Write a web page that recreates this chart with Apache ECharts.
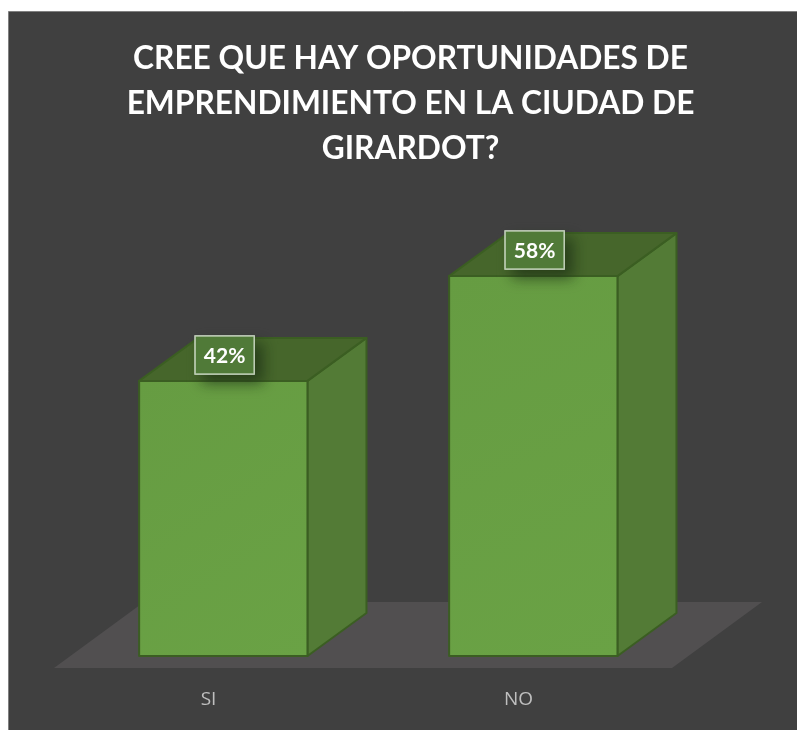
<!DOCTYPE html>
<html>
<head>
<meta charset="utf-8">
<style>
  html, body { margin: 0; padding: 0; background: #ffffff; }
  #chart { position: absolute; left: 0; top: 0; width: 797px; height: 730px; }
</style>
<script src="https://cdn.jsdelivr.net/npm/echarts@6/dist/echarts.min.js"></script>
</head>
<body>
<div id="chart"></div>
<script>
const titleLines = ['CREE QUE HAY OPORTUNIDADES DE', 'EMPRENDIMIENTO EN LA CIUDAD DE', 'GIRARDOT?'];
const categories = ['SI', 'NO'];
const percentages = [42, 58];

const DEPTH_X = 59, DEPTH_Y = 43;
const SIDE = '#537b36', TOP = '#46662b', EDGE = '#3b5e22';

const chart = echarts.init(document.getElementById('chart'), null, { renderer: 'canvas' });

// Floor plate under the columns, placed relative to the plot rectangle.
function renderFloor(params) {
  const c = params.coordSys;
  const bottom = c.y + c.height;
  return {
    type: 'polygon',
    shape: { points: [
      [c.x - 14, bottom + 12],
      [c.x + c.width - 16, bottom + 12],
      [c.x + c.width + 74, bottom - 54],
      [c.x + 76, bottom - 54]
    ] },
    style: { fill: '#514f50' },
    silent: true
  };
}

// One box per category: front, side and top faces plus the value tag.
function renderBox(params, api) {
  const idx = api.value(0);
  const val = api.value(1);
  const base = api.coord([idx, 0]);
  const head = api.coord([idx, val]);
  const w = api.size([1, 0])[0] * 0.543;
  const l = base[0] - w / 2 + 0.3, r = l + w, t = head[1], b = base[1];
  const edge = { stroke: EDGE, lineWidth: 2, lineJoin: 'round' };
  const tag = { x: l + 56, y: t - 45, width: 59, height: 38 };
  return {
    type: 'group',
    children: [
      { type: 'polygon', shape: { points: [[r, t], [r + DEPTH_X, t - DEPTH_Y], [r + DEPTH_X, b - DEPTH_Y], [r, b]] },
        style: Object.assign({ fill: SIDE }, edge) },
      { type: 'polygon', shape: { points: [[l, t], [l + DEPTH_X, t - DEPTH_Y], [r + DEPTH_X, t - DEPTH_Y], [r, t]] },
        style: Object.assign({ fill: TOP }, edge) },
      { type: 'rect', shape: { x: l, y: t, width: w, height: b - t },
        style: Object.assign({
          fill: new echarts.graphic.LinearGradient(0, 0, 1, 1, [
            { offset: 0, color: '#669c42' }, { offset: 1, color: '#6aa245' }
          ])
        }, edge) },
      { type: 'rect', shape: tag,
        style: {
          fill: '#507a38', stroke: 'rgba(205,218,198,0.8)', lineWidth: 1.5,
          shadowBlur: 14, shadowColor: 'rgba(30,50,20,0.75)', shadowOffsetX: 8, shadowOffsetY: 8
        } },
      { type: 'rect', shape: tag,
        style: { fill: '#507a38', stroke: 'rgba(205,218,198,0.8)', lineWidth: 1.5 } },
      { type: 'text', x: l + 85.5, y: t - 25,
        style: {
          text: val + '%', fill: '#ffffff', font: 'bold 21px Lato, "Open Sans", sans-serif',
          align: 'center', verticalAlign: 'middle'
        } }
    ]
  };
}

chart.setOption({
  animation: false,
  backgroundColor: 'transparent',
  graphic: [{
    type: 'rect', z: -10, silent: true,
    shape: { x: 8.5, y: 11.5, width: 800, height: 730 },
    style: { fill: '#404040', stroke: '#808080', lineWidth: 1 }
  }],
  title: {
    text: titleLines.join('\n'),
    left: 405.5, top: 31, textAlign: 'center',
    textStyle: { color: '#ffffff', fontFamily: 'Lato, "Open Sans", sans-serif', fontWeight: 'bold', fontSize: 31.7, lineHeight: 45 }
  },
  grid: { left: 68, width: 620, top: 197.5, height: 458.5 },
  xAxis: {
    type: 'category', data: categories,
    axisLine: { show: false }, axisTick: { show: false },
    axisLabel: { color: '#bfbfbf', fontFamily: '"Open Sans", sans-serif', fontSize: 19, margin: 34, padding: [0, 29, 0, 0] }
  },
  yAxis: { type: 'value', min: 0, max: 70, show: false, splitLine: { show: false } },
  series: [
    { type: 'custom', coordinateSystem: 'cartesian2d', z: 1, silent: true, data: [[0, 0]], renderItem: renderFloor, encode: { x: 0, y: 1 } },
    { type: 'custom', coordinateSystem: 'cartesian2d', z: 2, silent: true,
      data: percentages.map((v, i) => [i, v]), renderItem: renderBox, encode: { x: 0, y: 1 } }
  ]
});
</script>
</body>
</html>
